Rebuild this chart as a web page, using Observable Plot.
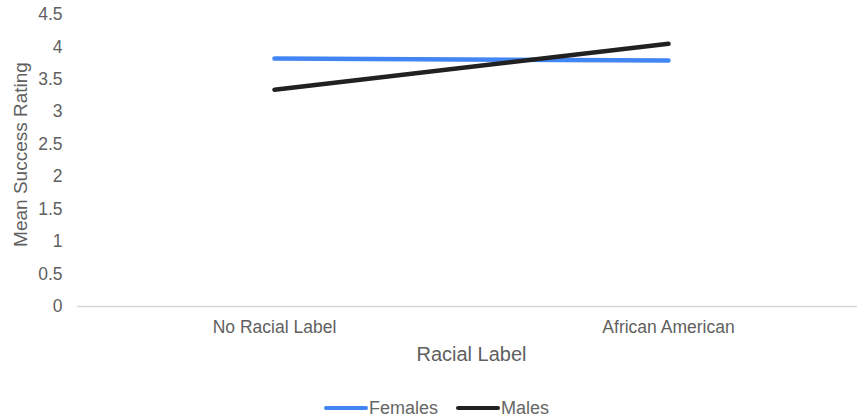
<!DOCTYPE html>
<html>
<head>
<meta charset="utf-8">
<script src="https://cdn.jsdelivr.net/npm/d3@7"></script>
<script src="https://cdn.jsdelivr.net/npm/@observablehq/plot@0.6"></script>
<style>
  html, body { margin: 0; padding: 0; background: #fff; }
  #chart svg { display: block; }
  .legend { display: flex; justify-content: center; align-items: center; height: 24px; padding-top: 4px; margin-left: 15px;
            font-family: "Liberation Sans", Arial, sans-serif; font-size: 18px; color: #666; }
  .legend .item { display: flex; align-items: center; margin: 0 9px; }
  .legend .swatch { width: 44px; height: 4.5px; border-radius: 2px; margin-right: 1px; }
</style>
</head>
<body>
<div id="chart"></div>
<div class="legend" id="legend"></div>
<script>
// Mean success rating by racial label, split by participant gender
const categories = ["No Racial Label", "African American"];
const females = [3.82, 3.79];
const males = [3.34, 4.05];
const seriesNames = ["Females", "Males"];
const seriesColors = ["#4285F4", "#212121"];
const yTicks = [0, 0.5, 1, 1.5, 2, 2.5, 3, 3.5, 4, 4.5];

const rows = [
  ...categories.map((c, i) => ({category: c, value: females[i], series: "Females"})),
  ...categories.map((c, i) => ({category: c, value: males[i], series: "Males"}))
];

const font = "Liberation Sans, Arial, sans-serif";

const chart = Plot.plot({
  width: 858,
  height: 392,
  marginTop: 14,
  marginBottom: 86,
  marginLeft: 77,
  marginRight: 1,
  style: {fontFamily: font, fontSize: "17px", color: "#5f5f5f", background: "#fff"},
  x: {type: "point", domain: categories, padding: 0.5, insetRight: -8, label: null},
  y: {domain: [0, 4.5], label: null},
  color: {domain: seriesNames, range: seriesColors},
  marks: [
    Plot.ruleY([0], {stroke: "#d6d6d6", strokeWidth: 1.5}),
    Plot.axisY({ticks: yTicks, tickSize: 0, tickPadding: 15, tickFormat: d => String(d), label: null, fontSize: 17.5}),
    Plot.axisX({tickSize: 0, tickPadding: 14, label: null, fontSize: 17.5}),
    Plot.line(rows, {x: "category", y: "value", z: "series", stroke: "series", strokeWidth: 4.5, strokeLinecap: "round"}),
    Plot.text(["Racial Label"], {frameAnchor: "bottom", dx: 4, dy: 54, fontSize: 20, fill: "#5f5f5f"}),
    Plot.text(["Mean Success Rating"], {frameAnchor: "left", textAnchor: "middle", rotate: -90, dx: -57, dy: -6, fontSize: 19, fill: "#5f5f5f"})
  ]
});
document.getElementById("chart").append(chart);

const legend = document.getElementById("legend");
seriesNames.forEach((name, i) => {
  const item = document.createElement("div");
  item.className = "item";
  const sw = document.createElement("span");
  sw.className = "swatch";
  sw.style.background = seriesColors[i];
  const label = document.createElement("span");
  label.textContent = name;
  item.append(sw, label);
  legend.append(item);
});
</script>
</body>
</html>
